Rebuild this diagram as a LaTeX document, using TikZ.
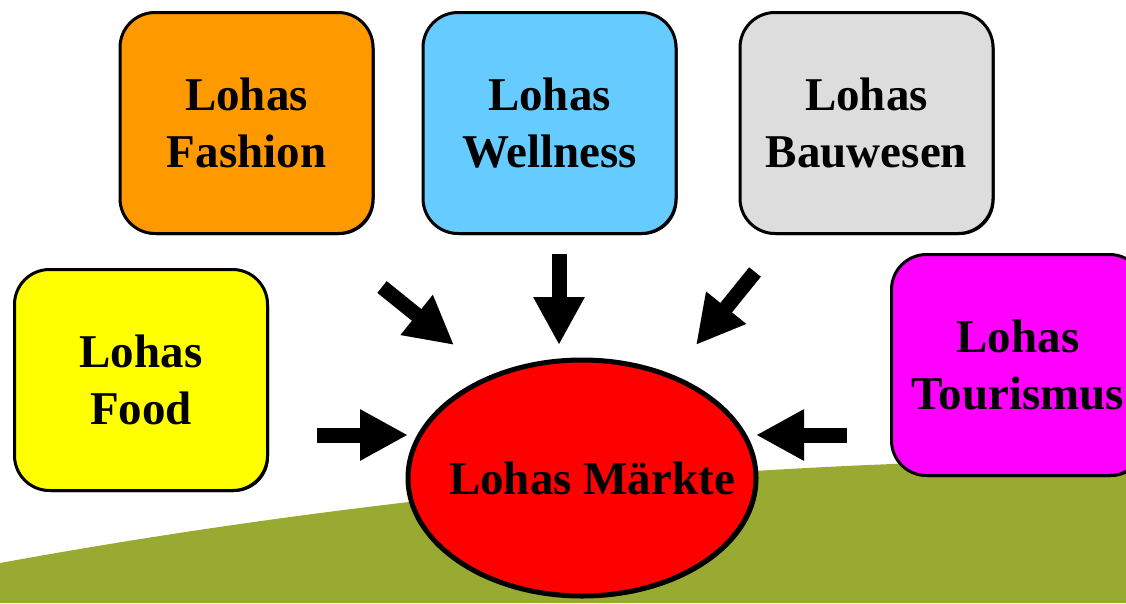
\documentclass[tikz,border=0pt]{standalone}
\usepackage{fontspec}
\setmainfont{Liberation Serif}
\usetikzlibrary{arrows.meta,shadows,shapes.geometric}
\definecolor{cOrange}{HTML}{FF9900}
\definecolor{cBlue}{HTML}{66CCFF}
\definecolor{cGray}{HTML}{DDDDDD}
\definecolor{cYellow}{HTML}{FFFF00}
\definecolor{cMagenta}{HTML}{FF00FF}
\definecolor{cRed}{HTML}{FF0000}
\definecolor{cHill}{HTML}{99AA33}
\tikzset{
  marketbox/.style={draw=black, line width=3pt, rounded corners=35pt,
    minimum width=253pt, minimum height=221pt, align=center,
    font=\fontsize{47}{57}\selectfont\bfseries, inner sep=0pt,
    drop shadow={shadow xshift=1.5pt, shadow yshift=-1.5pt, fill=black, opacity=1}},
  centre/.style={draw=black, line width=5pt, ellipse, fill=cRed,
    minimum width=348pt, minimum height=236pt,
    drop shadow={shadow xshift=2pt, shadow yshift=-2pt, fill=black, opacity=1}},
  blockarrow/.style={line width=15pt, draw=black,
    -{Triangle[width=48pt, length=48pt]}},
}
\begin{document}
\begin{tikzpicture}[x=1pt, y=-1pt]
\useasboundingbox (0,0) rectangle (1126,603);
\clip (0,0) rectangle (1126,603);
\fill[white] (0,0) rectangle (1126,603);
% hill
\fill[cHill] (0,563) .. controls (400,490) and (800,458) .. (1126,460)
  -- (1126,603) -- (0,603) -- cycle;
% boxes
\node[marketbox, fill=cOrange] (fashion) at (246.5,123) {Lohas\\Fashion};
\node[marketbox, fill=cBlue] (wellness) at (549.5,123) {Lohas\\Wellness};
\node[marketbox, fill=cGray] (bau) at (866.5,123) {Lohas\\Bauwesen};
\node[marketbox, fill=cYellow] (food) at (141,380) {Lohas\\Food};
\node[marketbox, fill=cMagenta] (tour) at (1018,365) {Lohas\\Tourismus};
% centre
\node[centre] (maerkte) at (582,478) {};
\node[font=\fontsize{47}{57}\selectfont\bfseries, inner sep=0pt] (mtext) at (592,478) {Lohas Märkte};
% arrow coordinates
\coordinate (aL1) at (317,435); \coordinate (aL2) at (408,435);
\coordinate (aR1) at (847,435); \coordinate (aR2) at (756,435);
\coordinate (aT1) at (559,254); \coordinate (aT2) at (559,345);
\coordinate (aTL1) at (382,287); \coordinate (aTL2) at (454,345);
\coordinate (aTR1) at (755,272); \coordinate (aTR2) at (696,345);
\draw[blockarrow] (aL1) -- (aL2);
\draw[blockarrow] (aR1) -- (aR2);
\draw[blockarrow] (aT1) -- (aT2);
\draw[blockarrow] (aTL1) -- (aTL2);
\draw[blockarrow] (aTR1) -- (aTR2);
\end{tikzpicture}
\end{document}
